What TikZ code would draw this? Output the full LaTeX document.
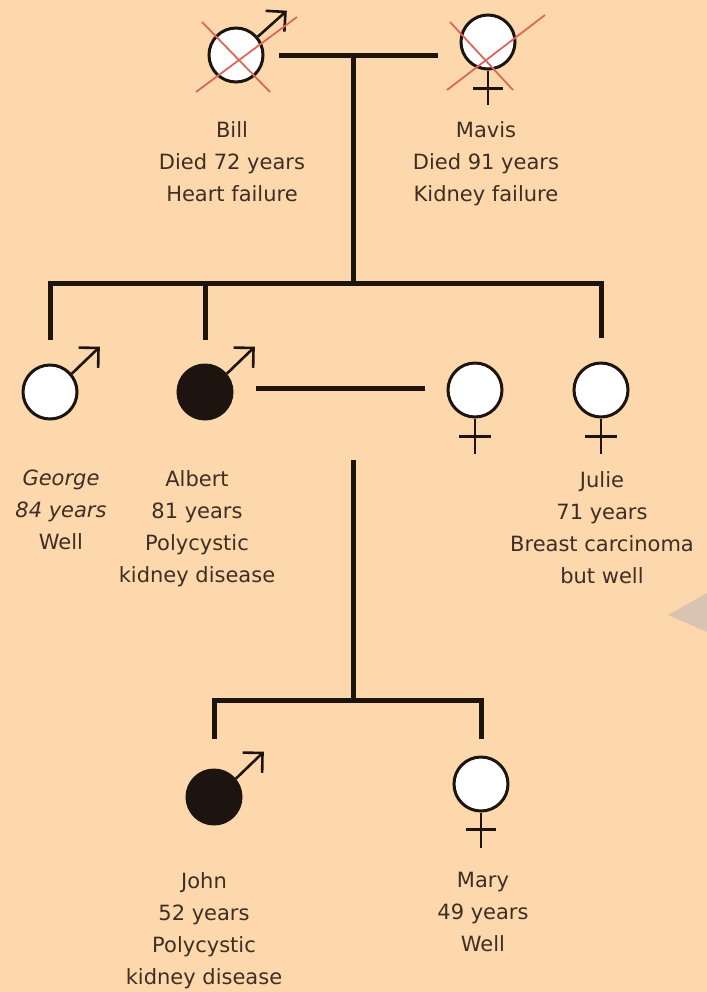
\documentclass[tikz,border=0pt]{standalone}
\usepackage{fontspec}
\setmainfont{DejaVu Sans}
\usetikzlibrary{positioning,arrows.meta}
\definecolor{Peach}{RGB}{252,216,172}
\definecolor{LineBrown}{RGB}{30,20,15}
\definecolor{TextBrown}{RGB}{62,46,36}
\definecolor{CrossRed}{RGB}{218,104,90}
\definecolor{PointerGrey}{RGB}{216,196,176}

\begin{document}
\begin{tikzpicture}[x=0.5pt,y=-0.5pt,
  every node/.style={font=\fontsize{10.5}{16}\selectfont, text=TextBrown, align=center, inner sep=0pt},
  person/.style={circle, draw=LineBrown, line width=1.5pt, minimum size=27pt, fill=white},
  affected/.style={person, fill=LineBrown},
  link/.style={draw=LineBrown, line width=2.5pt},
  sign/.style={draw=LineBrown, line width=1.3pt},
  maletip/.style={sign, -{Straight Barb[length=7pt,width=14pt]}},
  deceased/.style={draw=CrossRed, line width=0.9pt}]
  \fill[Peach] (0,0) rectangle (707,992);
  \fill[PointerGrey] (668,615) -- (707,593) -- (707,632) -- cycle;

  % grandparents
  \node[person] (bill) at (236,55) {};
  \node[person] (mavis) at (488,42) {};
  \draw[maletip] (bill.40) -- ++(29,-26);
  \draw[sign] (mavis.south) -- ++(0,34) (mavis.south) ++(-15,18) -- ++(30,0);
  \draw[deceased] ([shift={(-34,-33)}]bill.center) -- ([shift={(34,37)}]bill.center);
  \draw[deceased] ([shift={(-40,37)}]bill.center) -- ([shift={(61,-38)}]bill.center);
  \draw[deceased] ([shift={(-38,-20)}]mavis.center) -- ([shift={(25,48)}]mavis.center);
  \draw[deceased] ([shift={(-41,48)}]mavis.center) -- ([shift={(57,-27)}]mavis.center);
  \node[anchor=north] (billtxt) at (232,121) {Bill\\Died 72 years\\Heart failure};
  \node[anchor=north] (mavistxt) at (486,121) {Mavis\\Died 91 years\\Kidney failure};

  % children
  \node[person] (george) at (50,392) {};
  \node[affected] (albert) at (205,392) {};
  \node[person] (spouse) at (475,390) {};
  \node[person] (julie) at (601,390) {};
  \draw[maletip] (george.40) -- ++(28,-27);
  \draw[maletip] (albert.40) -- ++(28,-27);
  \draw[sign] (spouse.south) -- ++(0,35) (spouse.south) ++(-16,18) -- ++(32,0);
  \draw[sign] (julie.south) -- ++(0,35) (julie.south) ++(-16,18) -- ++(32,0);
  \node[anchor=north] (georgetxt) at (61,470) {\itshape George\\\itshape 84 years\\Well};
  \node[anchor=north] (alberttxt) at (197,470) {Albert\\81 years\\Polycystic\\kidney disease};
  \node[anchor=north] (julietxt) at (602,471) {Julie\\71 years\\Breast carcinoma\\but well};

  % grandchildren
  \node[affected] (john) at (214,797) {};
  \node[person] (mary) at (481,784) {};
  \draw[maletip] (john.40) -- ++(28,-27);
  \draw[sign] (mary.south) -- ++(0,35) (mary.south) ++(-15,17) -- ++(30,0);
  \node[anchor=north] (johntxt) at (204,872) {John\\52 years\\Polycystic\\kidney disease};
  \node[anchor=north] (marytxt) at (483,872) {Mary\\49 years\\Well};

  % lines of descent
  \coordinate (u1) at (353,55);
  \coordinate (s1) at (353,283);
  \coordinate (u2) at (353,460);
  \coordinate (s2) at (353,700);
  \draw[link, shorten <=7pt, shorten >=11pt] (bill.east) -- (bill.east -| mavis.west);
  \draw[link] (u1) -- (s1);
  \draw[link] ([yshift=12pt]george.north) |- (s1) -| ([yshift=12pt]julie.north);
  \draw[link] (s1 -| albert.north) -- ([yshift=12pt]albert.north);
  \draw[link, shorten <=11pt, shorten >=11pt] ([yshift=2pt]albert.east) -- ([yshift=2pt]albert.east -| spouse.west);
  \draw[link] (u2) -- (s2);
  \draw[link] ([yshift=15pt]john.north) |- (s2) -| ([yshift=8.5pt]mary.north);
\end{tikzpicture}
\end{document}
